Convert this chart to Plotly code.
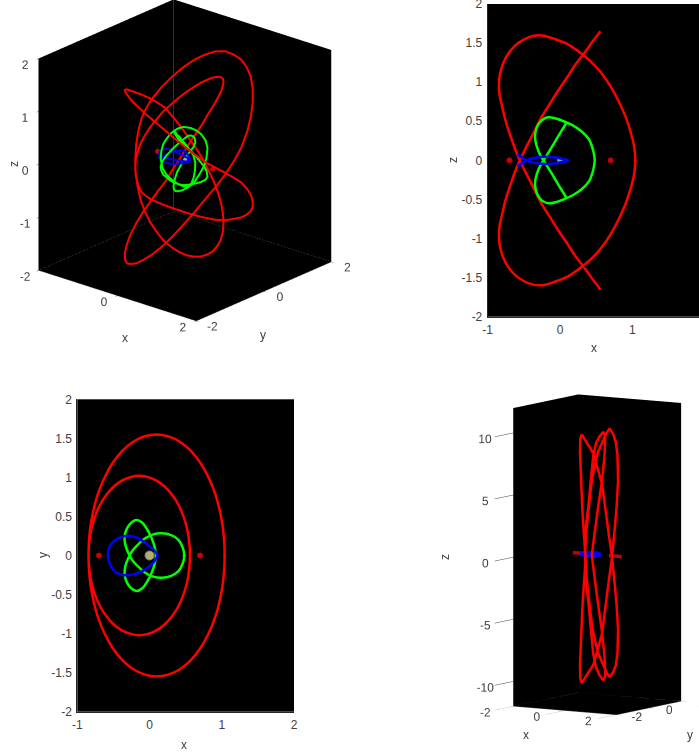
import plotly.graph_objs as go

# red orbit (quarter paths, rest is mirrored)
red_outer_x = [1.040, 1.026, 0.983, 0.914, 0.819, 0.703, 0.569, 0.420, 0.261, 0.098, -0.066, -0.225, -0.374, -0.508, -0.624, -0.719, -0.788, -0.831, -0.845]
red_outer_y = [0.000, 0.269, 0.530, 0.775, 0.996, 1.187, 1.342, 1.457, 1.526, 1.550, 1.526, 1.457, 1.342, 1.187, 0.996, 0.775, 0.530, 0.269, 0.000]
red_outer_z = [0.00, 0.17, 0.34, 0.54, 0.74, 0.94, 1.12, 1.27, 1.39, 1.49, 1.55, 1.595, 1.59, 1.54, 1.465, 1.36, 1.236, 1.10, 0.95]
red_inner_x = [-0.845, -0.834, -0.803, -0.751, -0.681, -0.594, -0.494, -0.383, -0.264, -0.143, -0.021, 0.098, 0.209, 0.309, 0.396, 0.466, 0.518, 0.549, 0.560]
red_inner_y = [0.000, -0.177, -0.349, -0.510, -0.656, -0.781, -0.883, -0.958, -1.004, -1.020, -1.004, -0.958, -0.883, -0.781, -0.656, -0.510, -0.349, -0.177, 0.000]
red_inner_z = [0.95, 0.83, 0.70, 0.50, 0.30, 0.08, -0.12, -0.32, -0.54, -0.72, -0.90, -1.06, -1.22, -1.34, -1.45, -1.54, -1.60, -1.64, -1.65]

green_outer_x = [0.48, 0.46, 0.40, 0.30, 0.17, 0.05, -0.06, -0.16, -0.23, -0.277]
green_outer_y = [0.00, 0.10, 0.20, 0.26, 0.285, 0.27, 0.22, 0.14, 0.07, 0.00]
green_outer_z = [0.00, 0.12, 0.27, 0.37, 0.45, 0.50, 0.535, 0.55, 0.527, 0.488]
green_inner_x = [-0.277, -0.315, -0.34, -0.345, -0.325, -0.275, -0.18, -0.10, -0.03, 0.03, 0.07, 0.09]
green_inner_y = [0.00, -0.08, -0.16, -0.24, -0.32, -0.40, -0.455, -0.42, -0.33, -0.22, -0.11, 0.00]
green_inner_z = [0.488, 0.432, 0.355, 0.29, 0.19, 0.07, -0.07, -0.19, -0.30, -0.39, -0.45, -0.485]

blue_x = [0.11, 0.08, 0.00, -0.12, -0.245, -0.36, -0.47, -0.55, -0.577, -0.54, -0.47, -0.36, -0.24, -0.12, -0.02, 0.07, 0.11]
blue_y = [0.00, 0.05, 0.12, 0.20, 0.25, 0.245, 0.20, 0.12, 0.00, -0.13, -0.21, -0.25, -0.245, -0.21, -0.15, -0.07, 0.00]
blue_z = [0.00, 0.012, 0.03, 0.042, 0.045, 0.03, 0.00, -0.05, -0.07, -0.05, 0.00, 0.03, 0.045, 0.042, 0.03, 0.012, 0.00]

# tall red orbit of the last panel, one list per leg between the tips
leg_a_x = [0.10, 0.05, 0.04, 0.09, 0.13, 0.19, 0.26, 0.19, 0.13, 0.09, 0.04, 0.05, 0.10]
leg_a_y = [-1.13] * 13
leg_a_z = [10, 9.6, 8.5, 6, 4, 2, 0, -2, -4, -6, -8.5, -9.6, -10]
leg_b_x = [0.10, 0.21, 0.48, 0.69, 0.69, 0.72, 0.73, 0.73, 0.72, 0.65, 0.50, 0.39, 0.25, 0.10]
leg_b_y = [-1.13, -1.10, -1.00, -0.80, -0.60, -0.45, -0.25, -0.10, 0.05, 0.25, 0.45, 0.52, 0.58, 0.60]
leg_b_z = [-10, -9.6, -8.5, -6, -4, -2, 0, 2, 4, 6, 8, 9, 9.6, 10]
leg_c_x = [0.10, -0.01, -0.29, -0.44, -0.50, -0.54, -0.57, -0.50, -0.34, -0.22, -0.08, 0.05, 0.20, 0.37]
leg_c_y = [0.60, 0.57, 0.48, 0.38, 0.30, 0.20, 0.15, 0.08, 0.00, -0.05, -0.12, -0.16, -0.19, -0.21]
leg_c_z = [10, 9.6, 8, 6, 4, 2, 0, -2, -4, -6, -8, -9, -9.6, -10]
leg_d_x = [0.37, 0.44, 0.41, 0.31, 0.17, 0.04, -0.08, 0.04, 0.17, 0.31, 0.41, 0.44, 0.37]
leg_d_y = [-0.21] * 13
leg_d_z = [-10, -9.6, -8, -6, -4, -2, 0, 2, 4, 6, 8, 9.6, 10]

lib_x = [-0.7, 0.7]
lib_y = [0, 0]
lib_z = [0, 0]
center_x = [0]
center_y = [0]
center_z = [0]
# flattened libration dots in the stretched panel
flat_left_x = [-0.95, -0.45]
flat_right_x = [0.45, 0.95]

tick_vals_x = [-1, 0, 1, 2]
tick_text_x = ["-1", "0", "1", "2"]
tick_vals_half = [-2, -1.5, -1, -0.5, 0, 0.5, 1, 1.5, 2]
tick_text_half = ["-2", "-1.5", "-1", "-0.5", "0", "0.5", "1", "1.5", "2"]
tick_vals_3d = [-2, 0, 2]
tick_text_3d = ["-2", "0", "2"]
tick_vals_z1 = [-2, -1, 0, 1, 2]
tick_text_z1 = ["-2", "-1", "0", "1", "2"]
tick_vals_z4 = [-10, -5, 0, 5, 10]
tick_text_z4 = ["-10", "-5", "0", "5", "10"]

RED = "#ff0000"
GREEN = "#00ff00"
BLUE = "#0000ff"
DOT = "#c80000"
TEXT = "#404040"
W, H = 699, 754


def orbit(ox, oy, oz, ix, iy, iz):
    # outer arc, inner arc, back over both with y flipped, then all again with z flipped
    x = ox + ix[1:] + ix[::-1][1:] + ox[::-1][1:]
    y = oy + iy[1:] + [-v for v in iy[::-1]][1:] + [-v for v in oy[::-1]][1:]
    z = oz + iz[1:] + iz[::-1][1:] + oz[::-1][1:]
    return x + x[1:], y + y[1:], z + [-v for v in z][1:]


def tall_orbit():
    x = leg_a_x + leg_b_x[1:] + leg_c_x[1:] + leg_d_x[1:] + leg_c_x[::-1][1:] + leg_b_x[::-1][1:]
    y = leg_a_y + leg_b_y[1:] + leg_c_y[1:] + leg_d_y[1:] + leg_c_y[::-1][1:] + leg_b_y[::-1][1:]
    z = leg_a_z + leg_b_z[1:] + leg_c_z[1:] + leg_d_z[1:] + [-v for v in leg_c_z[::-1]][1:] + [-v for v in leg_b_z[::-1]][1:]
    return x, y, z


red = orbit(red_outer_x, red_outer_y, red_outer_z, red_inner_x, red_inner_y, red_inner_z)
green = orbit(green_outer_x, green_outer_y, green_outer_z, green_inner_x, green_inner_y, green_inner_z)
blue = (blue_x + blue_x[1:], blue_y + blue_y[1:], blue_z + [-v for v in blue_z][1:])
tall = tall_orbit()


def flat(a, b, color, xa, ya):
    return go.Scatter(x=a, y=b, mode="lines", line=dict(color=color, width=2.5, shape="spline", smoothing=0.8),
                      xaxis=xa, yaxis=ya, showlegend=False)


def dots(a, b, color, size, xa, ya, edge=None):
    return go.Scatter(x=a, y=b, mode="markers", xaxis=xa, yaxis=ya, showlegend=False,
                      marker=dict(color=color, size=size, line=dict(color=edge or color, width=1)))


def line3(pts, color, scene, width=4):
    return go.Scatter3d(x=pts[0], y=pts[1], z=pts[2], mode="lines", scene=scene, showlegend=False,
                        line=dict(color=color, width=width))


def dots3(a, b, c, color, size, scene):
    return go.Scatter3d(x=a, y=b, z=c, mode="markers", scene=scene, showlegend=False,
                        marker=dict(color=color, size=size))


def box_edges(scene, zlo, zhi):
    # grey back edge and dotted floor edges
    return [
        go.Scatter3d(x=[-2, -2], y=[2, 2], z=[zlo, zhi], mode="lines", scene=scene, showlegend=False,
                     line=dict(color="#808080", width=1)),
        go.Scatter3d(x=[-2, -2, 2], y=[-2, 2, 2], z=[zlo, zlo, zlo], mode="lines", scene=scene, showlegend=False,
                     line=dict(color="#808080", width=1, dash="dot")),
    ]


data = []
data += box_edges("scene", -2, 2)
data += [line3(red, RED, "scene"), line3(green, GREEN, "scene"), line3(blue, BLUE, "scene"),
         dots3(lib_x, lib_y, lib_z, DOT, 3, "scene"), dots3(center_x, center_y, center_z, "#b9a96a", 2.5, "scene")]
data += [flat(red[0], red[2], RED, "x", "y"), flat(green[0], green[2], GREEN, "x", "y"),
         dots(lib_x, lib_z, DOT, 5, "x", "y"), dots(center_x, center_z, "#6fa8a0", 5, "x", "y"),
         flat(blue[0], blue[2], BLUE, "x", "y"),
         dots(red[0][:1], red[2][:1], RED, 2, "x", "y")]
data += [flat(red[0], red[1], RED, "x2", "y2"), flat(green[0], green[1], GREEN, "x2", "y2"),
         flat(blue[0], blue[1], BLUE, "x2", "y2"),
         dots(lib_x, lib_y, DOT, 5, "x2", "y2"), dots(center_x, center_y, "#b9a96a", 9, "x2", "y2", "#6f8f7a"),
         dots(red[0][:1], red[1][:1], RED, 2, "x2", "y2"), dots(green[0][:1], green[1][:1], GREEN, 2, "x2", "y2")]
data += box_edges("scene2", -12, 12)[1:]
data += [line3(tall, RED, "scene2", 5), line3(blue, BLUE, "scene2", 7),
         line3((flat_left_x, lib_y, lib_z), DOT, "scene2", 7), line3((flat_right_x, lib_y, lib_z), DOT, "scene2", 7)]


def axis2d(vals, text, rng, domain, anchor):
    # invisible ticks only push the labels off the axis line
    return dict(range=rng, domain=domain, anchor=anchor, tickmode="array", tickvals=vals, ticktext=text,
                showgrid=False, zeroline=False, showline=True, linecolor="#262626", linewidth=1,
                ticks="outside", ticklen=2, tickcolor="rgba(0,0,0,0)", ticklabeloverflow="allow",
                tickfont=dict(color=TEXT, size=12))


def axis3d(vals, text, rng, ticklen):
    return dict(range=rng, tickmode="array", tickvals=vals, ticktext=text, showgrid=False, zeroline=False,
                showbackground=True, backgroundcolor="#000000", showline=True, linecolor="#404040", linewidth=1,
                ticks="outside", ticklen=ticklen, tickcolor="#404040", tickwidth=1, showspikes=False, tickangle=0,
                tickfont=dict(color=TEXT, size=12), title=dict(text=""))


def px_x(a, b):
    return [a / W, b / W]


def px_y(top, bottom):
    return [1 - bottom / H, 1 - top / H]


def camera(direction, dist, look):
    return dict(projection=dict(type="orthographic"),
                center=dict(x=look[0], y=look[1], z=look[2]),
                eye=dict(x=look[0] + direction[0] * dist, y=look[1] + direction[1] * dist, z=look[2] + direction[2] * dist))


def label(text, x, y, angle=0):
    return dict(text=text, xref="paper", yref="paper", x=x / W, y=1 - y / H, showarrow=False, textangle=angle,
                xanchor="center", yanchor="middle", font=dict(color=TEXT, size=12))


layout = go.Layout(
    width=W, height=H, autosize=False, margin=dict(l=0, r=0, t=0, b=0, autoexpand=False),
    paper_bgcolor="#ffffff", plot_bgcolor="#000000",
    font=dict(family="Liberation Sans, Arial, sans-serif", color=TEXT),
    xaxis=axis2d(tick_vals_x[:3], tick_text_x[:3], [-1, 1.922], px_x(487.7, 699), "y"),
    yaxis=axis2d(tick_vals_half, tick_text_half, [-2, 2], px_y(4, 316.7), "x"),
    xaxis2=axis2d(tick_vals_x, tick_text_x, [-1, 2], px_x(77.3, 294), "y2"),
    yaxis2=axis2d(tick_vals_half, tick_text_half, [-2, 2], px_y(399.3, 711.7), "x2"),
    scene=dict(
        domain=dict(x=px_x(0, 370), y=px_y(0, 350)),
        xaxis=axis3d(tick_vals_3d, tick_text_3d, [-2, 2], 3),
        yaxis=axis3d(tick_vals_3d, tick_text_3d, [-2, 2], 3),
        zaxis=axis3d(tick_vals_z1, tick_text_z1, [-2, 2], 3),
        aspectmode="manual", aspectratio=dict(x=1.186, y=1.186, z=1.306),
        camera=camera((0.603, -0.704, 0.375), 2.0, (0, 0, -0.0915)),
    ),
    scene2=dict(
        domain=dict(x=px_x(430, 699), y=px_y(390, 754)),
        xaxis=axis3d(tick_vals_3d, tick_text_3d, [-2, 2], 6),
        yaxis=axis3d(tick_vals_3d, tick_text_3d, [-2, 2], 35),
        zaxis=axis3d(tick_vals_z4, tick_text_z4, [-12, 12], 20),
        aspectmode="manual", aspectratio=dict(x=0.6685, y=0.6685, z=1.653),
        camera=camera((0.528, -0.839, 0.132), 2.0, (-0.1525, -0.096, -0.0964)),
    ),
    annotations=[
        label("x", 125, 338), label("y", 263, 335), label("z", 14, 164, -90),
        label("x", 594, 348), label("z", 453, 160, -90),
        label("x", 184, 745), label("y", 43, 555, -90),
        label("x", 526, 735), label("y", 690, 735), label("z", 445, 557, -90),
    ],
)

fig = go.Figure(data=data, layout=layout)
fig.write_html("out.html", config=dict(displayModeBar=False),
               post_script="document.body.style.margin='0';document.body.style.overflow='hidden';")
